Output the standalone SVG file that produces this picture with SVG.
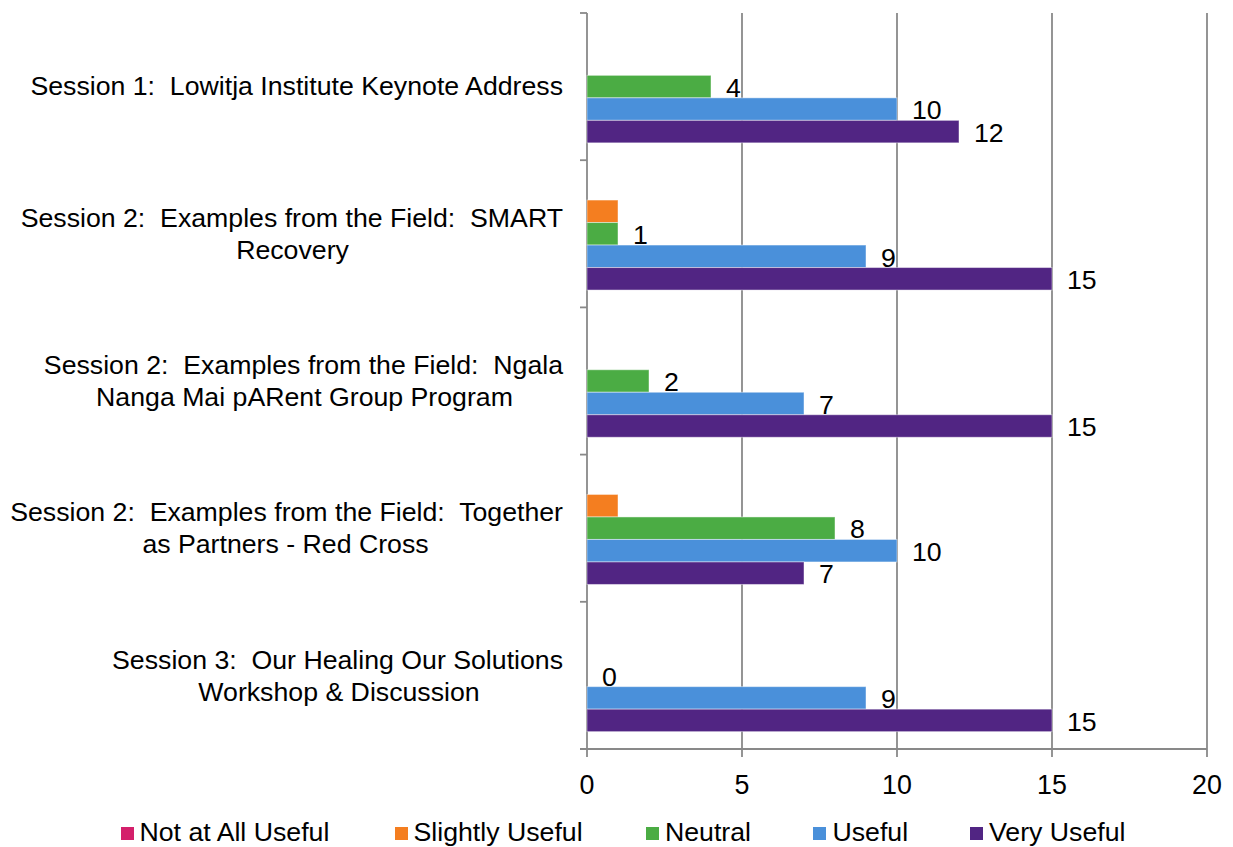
<svg xmlns="http://www.w3.org/2000/svg" width="1233" height="847" viewBox="0 0 1233 847" xml:space="preserve">
<style>
text{font-family:"Liberation Sans",Arial,sans-serif;fill:#000;white-space:pre}
.cat{font-size:26.7px}
.tick{font-size:26.8px;text-anchor:middle}
.lbl{font-size:26.7px}
.leg{font-size:26.7px}
.grid{stroke:#898989;stroke-width:1.8;fill:none}
.ax{stroke:#898989;stroke-width:1.8;fill:none}
.b{stroke:#ffffff;stroke-opacity:0.45;stroke-width:1}
.s1{fill:#D41F6B}.s2{fill:#F47E20}.s3{fill:#4BAC44}.s4{fill:#4A90DA}.s5{fill:#512583}
</style>
<rect width="1233" height="847" fill="#ffffff"/>
<g id="gridlines" class="grid">
<line x1="742" y1="13" x2="742" y2="749"/>
<line x1="897" y1="13" x2="897" y2="749"/>
<line x1="1052" y1="13" x2="1052" y2="749"/>
<line x1="1207" y1="13" x2="1207" y2="749"/>
</g>
<g id="axes" class="ax">
<line x1="587" y1="13" x2="587" y2="757"/>
<line x1="580" y1="749" x2="1207" y2="749"/>
<line x1="580" y1="13" x2="587" y2="13"/>
<line x1="580" y1="160.2" x2="587" y2="160.2"/>
<line x1="580" y1="307.4" x2="587" y2="307.4"/>
<line x1="580" y1="454.6" x2="587" y2="454.6"/>
<line x1="580" y1="601.8" x2="587" y2="601.8"/>
<line x1="742" y1="749" x2="742" y2="757"/>
<line x1="897" y1="749" x2="897" y2="757"/>
<line x1="1052" y1="749" x2="1052" y2="757"/>
<line x1="1207" y1="749" x2="1207" y2="757"/>
</g>
<g id="x-tick-labels">
<text class="tick" x="587" y="794">0</text>
<text class="tick" x="742" y="794">5</text>
<text class="tick" x="897" y="794">10</text>
<text class="tick" x="1052" y="794">15</text>
<text class="tick" x="1207" y="794">20</text>
</g>
<g id="category-labels">
<text class="cat" x="563" y="95.3" text-anchor="end">Session 1:  Lowitja Institute Keynote Address</text>
<text class="cat" x="563" y="227" text-anchor="end">Session 2:  Examples from the Field:  SMART</text>
<text class="cat" x="292.5" y="259" text-anchor="middle">Recovery</text>
<text class="cat" x="563" y="374.2" text-anchor="end">Session 2:  Examples from the Field:  Ngala</text>
<text class="cat" x="304.5" y="406.2" text-anchor="middle">Nanga Mai pARent Group Program</text>
<text class="cat" x="563" y="521.4" text-anchor="end">Session 2:  Examples from the Field:  Together</text>
<text class="cat" x="285.5" y="553.4" text-anchor="middle">as Partners - Red Cross</text>
<text class="cat" x="563" y="668.6" text-anchor="end">Session 3:  Our Healing Our Solutions</text>
<text class="cat" x="339" y="700.6" text-anchor="middle">Workshop &amp; Discussion</text>
</g>
<g id="series-slightly-useful">
<rect class="s2 b" x="587" y="200.05" width="31" height="22.5"/>
<rect class="s2 b" x="587" y="494.45" width="31" height="22.5"/>
</g>
<g id="series-neutral">
<rect class="s3 b" x="587" y="75.35" width="124" height="22.5"/>
<rect class="s3 b" x="587" y="222.55" width="31" height="22.5"/>
<rect class="s3 b" x="587" y="369.75" width="62" height="22.5"/>
<rect class="s3 b" x="587" y="516.95" width="248" height="22.5"/>
<text class="lbl" x="726" y="96.8">4</text>
<text class="lbl" x="633" y="244">1</text>
<text class="lbl" x="664" y="391.2">2</text>
<text class="lbl" x="850" y="538.4">8</text>
<text class="lbl" x="602" y="685.6">0</text>
</g>
<g id="series-useful">
<rect class="s4 b" x="587" y="97.85" width="310" height="22.5"/>
<rect class="s4 b" x="587" y="245.05" width="279" height="22.5"/>
<rect class="s4 b" x="587" y="392.25" width="217" height="22.5"/>
<rect class="s4 b" x="587" y="539.45" width="310" height="22.5"/>
<rect class="s4 b" x="587" y="686.65" width="279" height="22.5"/>
<text class="lbl" x="912" y="119.3">10</text>
<text class="lbl" x="881" y="266.5">9</text>
<text class="lbl" x="819" y="413.7">7</text>
<text class="lbl" x="912" y="560.9">10</text>
<text class="lbl" x="881" y="708.1">9</text>
</g>
<g id="series-very-useful">
<rect class="s5 b" x="587" y="120.35" width="372" height="22.5"/>
<rect class="s5 b" x="587" y="267.55" width="465" height="22.5"/>
<rect class="s5 b" x="587" y="414.75" width="465" height="22.5"/>
<rect class="s5 b" x="587" y="561.95" width="217" height="22.5"/>
<rect class="s5 b" x="587" y="709.15" width="465" height="22.5"/>
<text class="lbl" x="974" y="141.8">12</text>
<text class="lbl" x="1067" y="289">15</text>
<text class="lbl" x="1067" y="436.2">15</text>
<text class="lbl" x="819" y="583.4">7</text>
<text class="lbl" x="1067" y="730.6">15</text>
</g>
<g id="legend">
<rect class="s1" x="121" y="827" width="13" height="13"/>
<text class="leg" x="139.5" y="841">Not at All Useful</text>
<rect class="s2" x="395" y="827" width="13" height="13"/>
<text class="leg" x="413.5" y="841">Slightly Useful</text>
<rect class="s3" x="646" y="827" width="13" height="13"/>
<text class="leg" x="665" y="841">Neutral</text>
<rect class="s4" x="813" y="827" width="13" height="13"/>
<text class="leg" x="832.5" y="841">Useful</text>
<rect class="s5" x="970" y="827" width="13" height="13"/>
<text class="leg" x="989" y="841">Very Useful</text>
</g>
</svg>
